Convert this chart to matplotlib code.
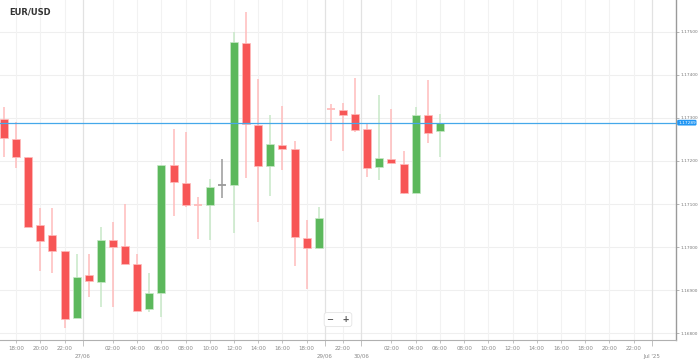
import numpy as np
import matplotlib.pyplot as plt

# hourly EUR/USD candles, 26/06 17:00 -> 30/06 06:00 (weekend gap removed)
opens = [1.17298, 1.17251, 1.17209, 1.17051, 1.17028, 1.16991, 1.16835, 1.16935,
         1.16919, 1.17016, 1.17002, 1.16960, 1.16856, 1.16893, 1.17191, 1.17149,
         1.17098, 1.17098, 1.17144, 1.17144, 1.17474, 1.17284, 1.17188, 1.17237,
         1.17228, 1.17021, 1.16998, 1.17321, 1.17319, 1.17309, 1.17274, 1.17186,
         1.17205, 1.17193, 1.17126, 1.17307, 1.17270]
highs = [1.17326, 1.17291, 1.17209, 1.17091, 1.17091, 1.16991, 1.16984, 1.16984,
         1.17046, 1.17058, 1.17100, 1.16984, 1.16940, 1.17191, 1.17274, 1.17267,
         1.17116, 1.17158, 1.17205, 1.17500, 1.17547, 1.17391, 1.17307, 1.17328,
         1.17246, 1.17063, 1.17093, 1.17333, 1.17335, 1.17393, 1.17288, 1.17353,
         1.17321, 1.17223, 1.17326, 1.17388, 1.17309]
lows = [1.17209, 1.17184, 1.17046, 1.16944, 1.16940, 1.16812, 1.16835, 1.16884,
        1.16860, 1.16860, 1.16960, 1.16851, 1.16849, 1.16837, 1.17072, 1.17093,
        1.17019, 1.17016, 1.17114, 1.17032, 1.17160, 1.17058, 1.17119, 1.17179,
        1.16956, 1.16902, 1.16995, 1.17246, 1.17223, 1.17267, 1.17163, 1.17156,
        1.17195, 1.17123, 1.17126, 1.17242, 1.17209]
closes = [1.17253, 1.17209, 1.17046, 1.17014, 1.16991, 1.16833, 1.16930, 1.16921,
          1.17016, 1.17000, 1.16960, 1.16851, 1.16893, 1.17191, 1.17151, 1.17098,
          1.17097, 1.17140, 1.17144, 1.17477, 1.17286, 1.17188, 1.17239, 1.17228,
          1.17023, 1.16998, 1.17067, 1.17320, 1.17307, 1.17272, 1.17184, 1.17207,
          1.17195, 1.17126, 1.17307, 1.17265, 1.17288]
last_price = 1.17289

hour_pos = [1, 3, 5, 9, 11, 13, 15, 17, 19, 21, 23, 25,
            28, 32, 34, 36, 38, 40, 42, 44, 46, 48, 50, 52]
hour_labels = ["18:00", "20:00", "22:00", "02:00", "04:00", "06:00", "08:00",
               "10:00", "12:00", "14:00", "16:00", "18:00", "22:00",
               "02:00", "04:00", "06:00", "08:00", "10:00", "12:00", "14:00",
               "16:00", "18:00", "20:00", "22:00"]
day_pos = [6.5, 26.5, 29.5, 53.5]
day_labels = ["27/06", "29/06", "30/06", "Jul '25"]
price_ticks = [1.168, 1.169, 1.170, 1.171, 1.172, 1.173, 1.174, 1.175]

green, red = "#5cb85c", "#f75656"
green_wick, red_wick = "#c8e8c8", "#ffbcbc"

fig = plt.figure(figsize=(6.99, 3.59), dpi=100)
ax = fig.add_axes([0, 19 / 359, 676 / 699, 340 / 359])

x = np.arange(len(opens))
o, h, l, c = map(np.array, (opens, highs, lows, closes))
up = c > o
flat = np.abs(c - o) < 0.00002

# grid
for p in price_ticks:
    ax.axhline(p, color="#efefef", lw=0.8, zorder=0)
for p in hour_pos:
    ax.axvline(p, color="#f2f2f2", lw=0.8, zorder=0)
for p in day_pos:
    ax.axvline(p, color="#e2e2e2", lw=0.9, zorder=0)

for i in x:
    if flat[i]:
        col = "#9a9a9a" if i == 18 else red_wick
        ax.vlines(i, l[i], h[i], color=col, lw=1.1, zorder=1)
        ax.hlines(o[i], i - 0.33, i + 0.33, color=col, lw=1.3, zorder=2)
        continue
    body_c = green if up[i] else red
    wick_c = green_wick if up[i] else red_wick
    ax.vlines(i, l[i], h[i], color=wick_c, lw=1.1, zorder=1)
    ax.bar(i, c[i] - o[i], bottom=o[i], width=0.66, color=body_c,
           edgecolor=wick_c, linewidth=0.5, zorder=2)

ax.axhline(last_price, color="#45a8ea", lw=0.9, zorder=3)

ax.set_xlim(-0.33, 55.5)
ax.set_ylim(1.16784, 1.17574)

for side in ["top", "left"]:
    ax.spines[side].set_visible(False)
ax.spines["right"].set_color("#9a9a9a")
ax.spines["bottom"].set_color("#b0b0b0")
ax.spines["right"].set_linewidth(1.0)
ax.spines["bottom"].set_linewidth(0.8)

ax.yaxis.tick_right()
ax.set_yticks(price_ticks)
ax.set_yticklabels([f"{p:.5f}" for p in price_ticks])
ax.tick_params(axis="y", labelsize=3.1, labelcolor="#777777", color="#999999",
               length=2, width=0.5, pad=1)

ax.set_xticks(hour_pos)
ax.set_xticklabels(hour_labels)
ax.set_xticks(day_pos, minor=True)
ax.set_xticklabels(day_labels, minor=True)
ax.tick_params(axis="x", which="major", labelsize=4, labelcolor="#888888",
               color="#aaaaaa", length=2, width=0.5, pad=2)
ax.tick_params(axis="x", which="minor", labelsize=4, labelcolor="#888888",
               color="#aaaaaa", length=4, width=0.5, pad=6)

# current price tag
ax.text(1.003, last_price, f"{last_price:.5f}", transform=ax.get_yaxis_transform(),
        ha="left", va="center", fontsize=3.1, color="white",
        bbox=dict(boxstyle="round,pad=0.2,rounding_size=0.3", fc="#2196f3",
                  ec="none"), zorder=5, clip_on=False)

ax.text(0.014, 0.965, "EUR/USD", transform=ax.transAxes, fontsize=6,
        fontweight="bold", color="#333333", va="center", ha="left")

# zoom control
ax.text(0.5, 0.06, "\u2212   +", transform=ax.transAxes, fontsize=6,
        fontweight="bold", color="#555555", ha="center", va="center",
        bbox=dict(boxstyle="round,pad=0.3", fc="white", ec="#e4e4e4", lw=0.6))

fig.savefig("out.png", dpi=100)
